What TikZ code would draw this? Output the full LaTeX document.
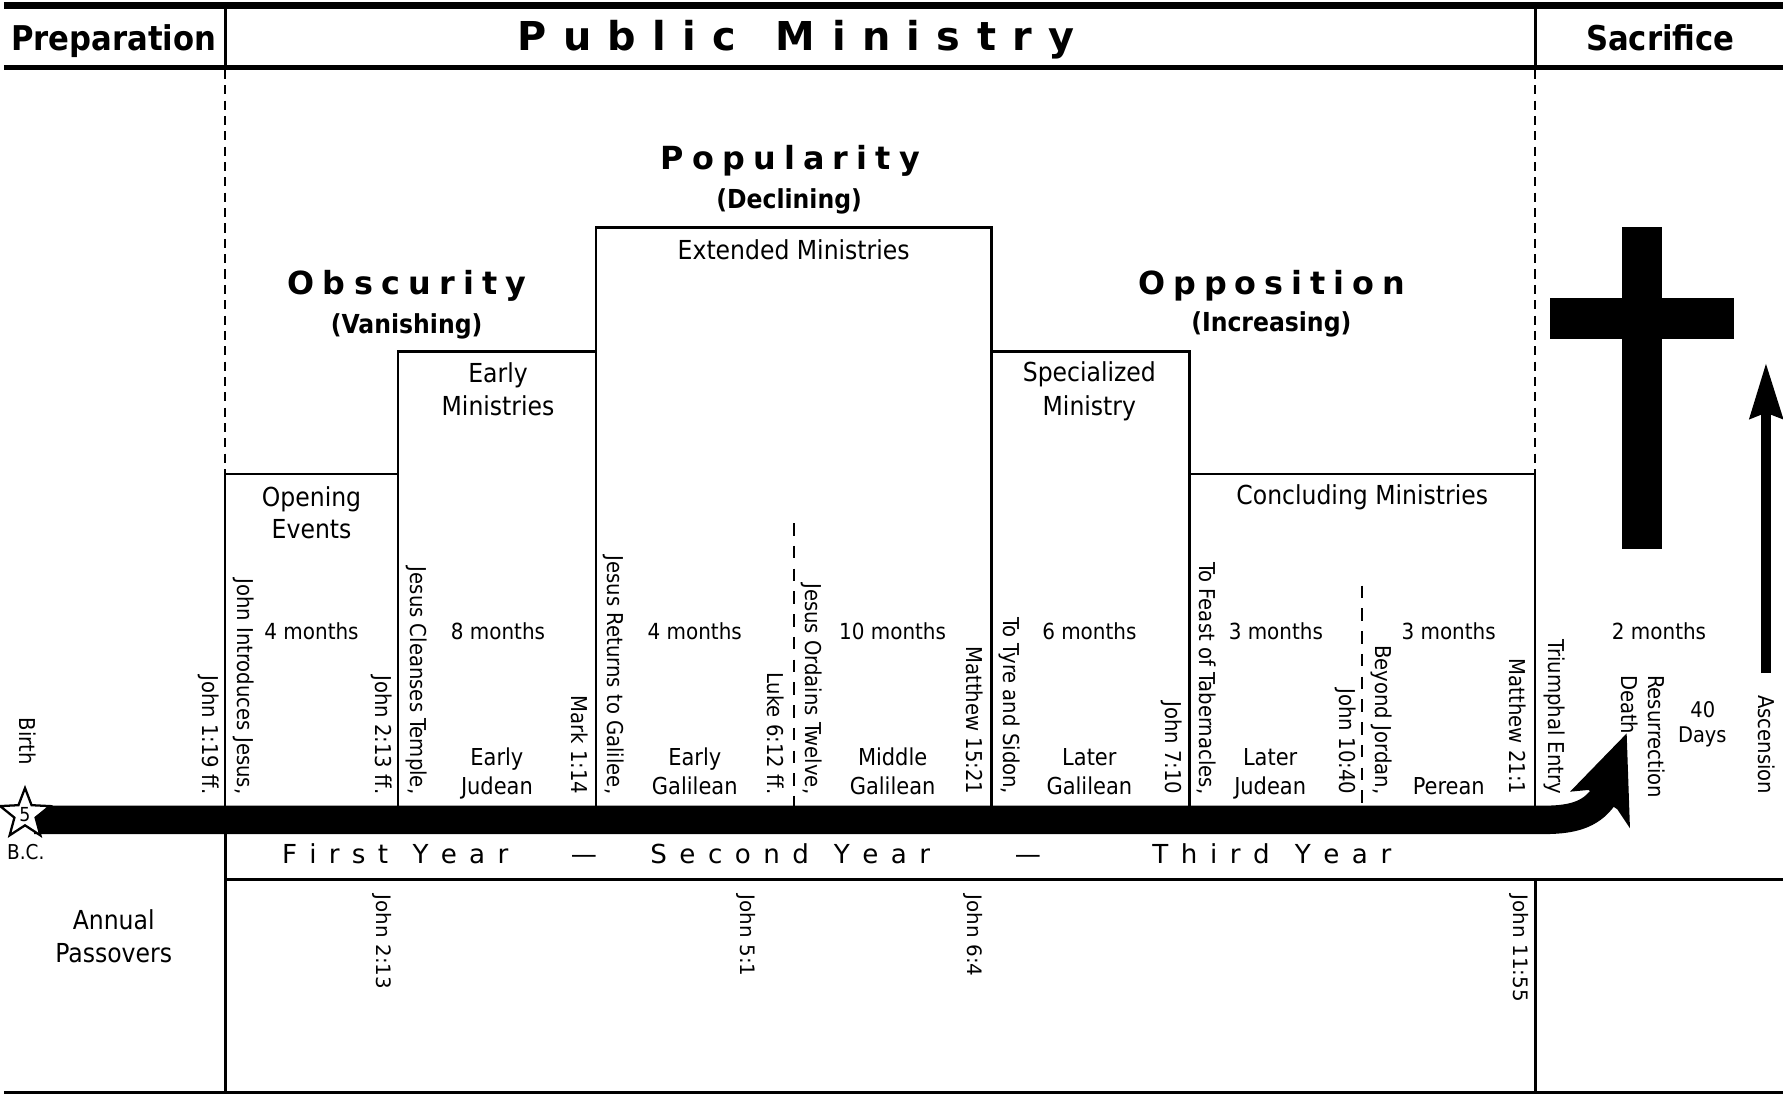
\documentclass[tikz,border=0pt]{standalone}
\usepackage{fontspec}
\setmainfont{DejaVu Sans Condensed}[BoldFont={DejaVu Sans Condensed Bold}]
\newfontfamily\widefont{DejaVu Sans}[BoldFont={DejaVu Sans Bold}]
\usetikzlibrary{shapes.geometric}
\makeatletter
\newcommand\lsw[1]{\def\lsw@sep{}\@tfor\lsw@c:=#1\do{\lsw@sep\lsw@c\def\lsw@sep{\hfil}}}
\makeatother
\newcommand\wsgap[1]{\hskip 0pt plus #1fil\relax}
\begin{document}
\begin{tikzpicture}[x=1pt,y=-1pt,
  every node/.style={inner sep=0pt, outer sep=0pt},
  hdrf/.style={font=\bfseries\fontsize{30}{30}\selectfont, anchor=base},
  bigf/.style={font=\widefont\bfseries\fontsize{35}{35}\selectfont, anchor=base},
  phasef/.style={font=\widefont\bfseries\fontsize{28}{28}\selectfont, anchor=base},
  subf/.style={font=\bfseries\fontsize{23}{23}\selectfont, anchor=base},
  titlef/.style={font=\fontsize{23}{23}\selectfont, anchor=base},
  monf/.style={font=\fontsize{19.5}{19.5}\selectfont, anchor=base},
  perf/.style={font=\fontsize{20.5}{20.5}\selectfont, anchor=base},
  smallf/.style={font=\fontsize{18.5}{18.5}\selectfont, anchor=base},
  rotf/.style={font=\fontsize{19.2}{19.2}\selectfont, rotate=-90, anchor=east},
  rotw/.style={font=\fontsize{19.2}{19.2}\selectfont, rotate=-90, anchor=west},
  passf/.style={font=\widefont\fontsize{17.5}{17.5}\selectfont, rotate=-90, anchor=west},
  yrf/.style={font=\widefont\fontsize{23}{23}\selectfont, anchor=base},
  ln/.style={line width=2pt},
  dashA/.style={line width=2.2pt, dash pattern=on 8pt off 5.5pt},
  dashB/.style={line width=2pt, dash pattern=on 11pt off 9pt},
]
\useasboundingbox (0,0) rectangle (1568,963);

% header frame
\draw[line width=6.7pt] (3.5,4.9) -- (1568,4.9);
\draw[line width=4pt] (3.5,59.5) -- (1568,59.5);
\draw[line width=2.5pt] (198,5) -- (198,59.5);
\draw[line width=2.5pt] (1350,5) -- (1350,59.5);
\node[hdrf] (prep) at (100,44) {Preparation};
\node[bigf] (pub) at (700,44.6) {\makebox[490pt][s]{\lsw{Public}\wsgap{2.4}\lsw{Ministry}}};
\node[hdrf] (sac) at (1460,44) {Sacrifice};

% dashed period borders
\draw[dashA] (198,61.5) -- (198,417);
\draw[dashA] (1350,61.5) -- (1350,417);

% phase headings
\node[phasef] (popu) at (695,149.5) {\makebox[228pt][s]{\lsw{Popularity}}};
\node[subf] (decl) at (694,183.2) {(Declining)};
\node[phasef] (obsc) at (358,259.4) {\makebox[210pt][s]{\lsw{Obscurity}}};
\node[subf] (vani) at (357.6,293) {(Vanishing)};
\node[phasef] (oppo) at (1118.5,259.4) {\makebox[235pt][s]{\lsw{Opposition}}};
\node[subf] (incr) at (1118,291.7) {(Increasing)};

% stepped boxes
\draw[ln] (198,708.5) -- (198,417) -- (350,417) -- (350,309) -- (524,309) -- (524,200)
  -- (872,200) -- (872,309) -- (1046,309) -- (1046,417) -- (1350,417) -- (1350,708.5);
\draw[ln] (350,417) -- (350,708.5);
\draw[ln] (524,309) -- (524,708.5);
\draw[ln] (872,309) -- (872,708.5);
\draw[ln] (1046,417) -- (1046,708.5);
\draw[dashB] (698,460) -- (698,708.5);
\draw[dashB] (1198,515) -- (1198,708.5);

% box titles
\node[titlef] (open1) at (274,445) {Opening};
\node[titlef] (open2) at (274,473.4) {Events};
\node[titlef] (early1) at (438,336) {Early};
\node[titlef] (early2) at (438,365) {Ministries};
\node[titlef] (ext) at (698,228) {Extended Ministries};
\node[titlef] (spec1) at (958,335.6) {Specialized};
\node[titlef] (spec2) at (958,365) {Ministry};
\node[titlef] (concl) at (1198,444) {Concluding Ministries};

% durations
\node[monf] (m1) at (274,562.2) {4 months};
\node[monf] (m2) at (438,562.2) {8 months};
\node[monf] (m3) at (611,562.2) {4 months};
\node[monf] (m4) at (785,562.2) {10 months};
\node[monf] (m5) at (958,562.2) {6 months};
\node[monf] (m6) at (1122,562.2) {3 months};
\node[monf] (m7) at (1274,562.2) {3 months};
\node[monf] (m8) at (1459,562.2) {2 months};

% period names
\node[perf] (p1a) at (437,673.3) {Early};
\node[perf] (p1b) at (437,699) {Judean};
\node[perf] (p2a) at (611,673.3) {Early};
\node[perf] (p2b) at (611,699) {Galilean};
\node[perf] (p3a) at (785,673.3) {Middle};
\node[perf] (p3b) at (785,699) {Galilean};
\node[perf] (p4a) at (958,673.3) {Later};
\node[perf] (p4b) at (958,699) {Galilean};
\node[perf] (p5a) at (1117,673.3) {Later};
\node[perf] (p5b) at (1117,699) {Judean};
\node[perf] (p6) at (1274,699) {Perean};

% rotated events
\node[rotf] (r1) at (183.5,698.5) {John 1:19 ff.};
\node[rotf] (r2) at (214,698.5) {John Introduces Jesus,};
\node[rotf] (r3) at (336,698.5) {John 2:13 ff.};
\node[rotf] (r4) at (366.5,698.5) {Jesus Cleanses Temple,};
\node[rotf] (r5) at (509.5,698.5) {Mark 1:14};
\node[rotf] (r6) at (540,698.5) {Jesus Returns to Galilee,};
\node[rotf] (r7) at (682,698.5) {Luke 6:12 ff.};
\node[rotf] (r8) at (714,698.5) {Jesus Ordains Twelve,};
\node[rotf] (r9) at (857.5,698.5) {Matthew 15:21};
\node[rotf] (r10) at (887.5,698.5) {To Tyre and Sidon,};
\node[rotf] (r11) at (1030.7,698.5) {John 7:10};
\node[rotf] (r12) at (1061.3,698.5) {To Feast of Tabernacles,};
\node[rotf] (r13) at (1183.7,698.5) {John 10:40};
\node[rotf] (r14) at (1215,698.5) {Beyond Jordan,};
\node[rotf] (r15) at (1334.5,698.5) {Matthew 21:1};
\node[rotf] (r16) at (1366.7,698.5) {Triumphal Entry};
\node[rotw] (r17) at (1432.7,593.6) {Death};
\node[rotw] (r18) at (1456.9,593.6) {Resurrection};
\node[rotf] (r19) at (1553.6,698.5) {Ascension};
\node[rotw] (birth) at (24.5,631) {Birth};
\node[smallf, font=\fontsize{19}{19}\selectfont] (d40) at (1497.5,631) {40};
\node[smallf, font=\fontsize{19}{19}\selectfont] (days) at (1497,653) {Days};

% cross
\fill (1426,200) rectangle (1462,483);
\fill (1363,262) rectangle (1525,298);

% ascension arrow
\coordinate (ascB) at (1553,592);
\coordinate (ascN) at (1553,362);
\coordinate (ascT) at (1553,320);
\draw[line width=9pt] (ascB) -- (ascN);
\fill (ascT) -- (1568.5,369) -- (1553,363) -- (1538,369) -- cycle;

% main timeline bar
\coordinate (barL) at (30,721);
\coordinate (barR) at (1358,721);
\coordinate (barE) at (1412,698);
\draw[line width=25pt] (barL) -- (barR) .. controls (1386,721) and (1401,715) .. (barE);
\fill (1430.5,645) -- (1380.7,696.2) -- (1396.8,694.7) -- (1422.3,711.7) -- (1433.4,728.4) -- cycle;
\node[star, star points=5, star point ratio=2.35, draw, line width=2pt, fill=white,
      minimum size=46pt, font=\fontsize{17}{17}\selectfont] (star) at (22,716) {\raisebox{-1pt}{5}};
\node[smallf, font=\fontsize{18}{18}\selectfont] (bc) at (22.7,756) {B.C.};

% years
\node[yrf] (y1) at (347.5,759.8) {\makebox[199pt][s]{\lsw{First}\wsgap{2}\lsw{Year}}};
\node[yrf] (dash1) at (513.5,759.8) {—};
\node[yrf] (y2) at (695,759.8) {\makebox[246pt][s]{\lsw{Second}\wsgap{2}\lsw{Year}}};
\node[yrf] (dash2) at (904,759.8) {—};
\node[yrf] (y3) at (1118.5,759.8) {\makebox[210pt][s]{\lsw{Third}\wsgap{2}\lsw{Year}}};

% lower frame
\draw[line width=2.5pt] (198,773.3) -- (1568,773.3);
\draw[line width=2.5pt] (198,733.5) -- (198,961);
\draw[line width=2.5pt] (1350,773.3) -- (1350,961);
\draw[line width=3pt] (3.5,961) -- (1568,961);

% passovers
\node[titlef] (ann1) at (100,817.8) {Annual};
\node[titlef] (ann2) at (100,846.3) {Passovers};
\node[passf] (pa1) at (336,787) {John 2:13};
\node[passf] (pa2) at (656,787) {John 5:1};
\node[passf] (pa3) at (856,787) {John 6:4};
\node[passf] (pa4) at (1335.5,787) {John 11:55};
\end{tikzpicture}
\end{document}
